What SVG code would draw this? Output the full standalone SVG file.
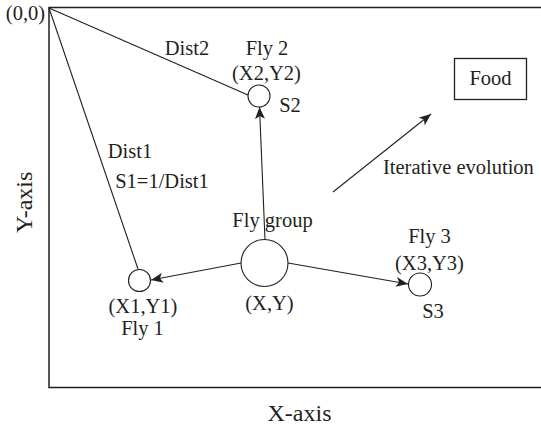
<svg xmlns="http://www.w3.org/2000/svg" width="541" height="426" viewBox="0 0 541 426" font-family="'Liberation Serif', 'DejaVu Serif', serif">
<style>
text{font-family:'Liberation Serif','DejaVu Serif',serif;font-size:20.5px;fill:#231f20}
.m{text-anchor:middle}
.ax{font-size:24px}
.ln{stroke:#231f20;stroke-width:1.1;fill:none}
.c{stroke:#231f20;stroke-width:1.1;fill:#fff}
</style>
<defs>
<marker id="ah" viewBox="0 0 12 10" refX="12" refY="5" markerWidth="12" markerHeight="10" markerUnits="userSpaceOnUse" orient="auto">
<path d="M0,0 L12,5 L0,10 L3,5 Z" fill="#231f20"/>
</marker>
</defs>
<rect width="541" height="426" fill="#fff"/>
<g id="frame">
<path d="M541,7.5 H49 V387.5 H541" fill="none" stroke="#231f20" stroke-width="1.5"/>
</g>
<g id="connectors">
<line class="ln" x1="49" y1="8" x2="248" y2="95"/>
<line class="ln" x1="49" y1="8" x2="138" y2="269"/>
<line class="ln" x1="241" y1="263" x2="151" y2="280" marker-end="url(#ah)"/>
<line class="ln" x1="265" y1="240" x2="259.5" y2="107" marker-end="url(#ah)"/>
<line class="ln" x1="288" y1="263" x2="408" y2="284" marker-end="url(#ah)"/>
<line class="ln" x1="333" y1="192" x2="431" y2="114" marker-end="url(#ah)"/>
</g>
<g id="origin"><text class="m" x="25.5" y="20">(0,0)</text></g>
<g id="dist-labels">
<text class="m" x="187" y="55">Dist2</text>
<text class="m" x="130" y="158">Dist1</text>
<text class="m" x="162" y="188">S1=1/Dist1</text>
</g>
<g id="fly2">
<circle class="c" cx="259" cy="96" r="11"/>
<text class="m" x="267" y="55">Fly 2</text>
<text class="m" x="266.5" y="80">(X2,Y2)</text>
<text class="m" x="290" y="112">S2</text>
</g>
<g id="flygroup">
<circle class="c" cx="264.5" cy="263" r="23.5"/>
<text class="m" x="272.5" y="227">Fly group</text>
<text class="m" x="269.5" y="310">(X,Y)</text>
</g>
<g id="fly1">
<circle class="c" cx="139.5" cy="280.5" r="11"/>
<text class="m" x="143" y="313">(X1,Y1)</text>
<text class="m" x="142.5" y="335">Fly 1</text>
</g>
<g id="fly3">
<circle class="c" cx="420" cy="284.5" r="11.5"/>
<text class="m" x="429.5" y="243">Fly 3</text>
<text class="m" x="429.5" y="270">(X3,Y3)</text>
<text class="m" x="433" y="318">S3</text>
</g>
<g id="food">
<rect x="454.5" y="58.5" width="72" height="41" fill="#fff" stroke="#231f20" stroke-width="1.3"/>
<text class="m" x="490.5" y="85">Food</text>
</g>
<g id="evolution"><text x="383" y="174">Iterative evolution</text></g>
<g id="axes">
<text class="m ax" x="299.5" y="420.5">X-axis</text>
<text class="ax" x="0" y="0" transform="translate(32,233) rotate(-90)">Y-axis</text>
</g>
</svg>
